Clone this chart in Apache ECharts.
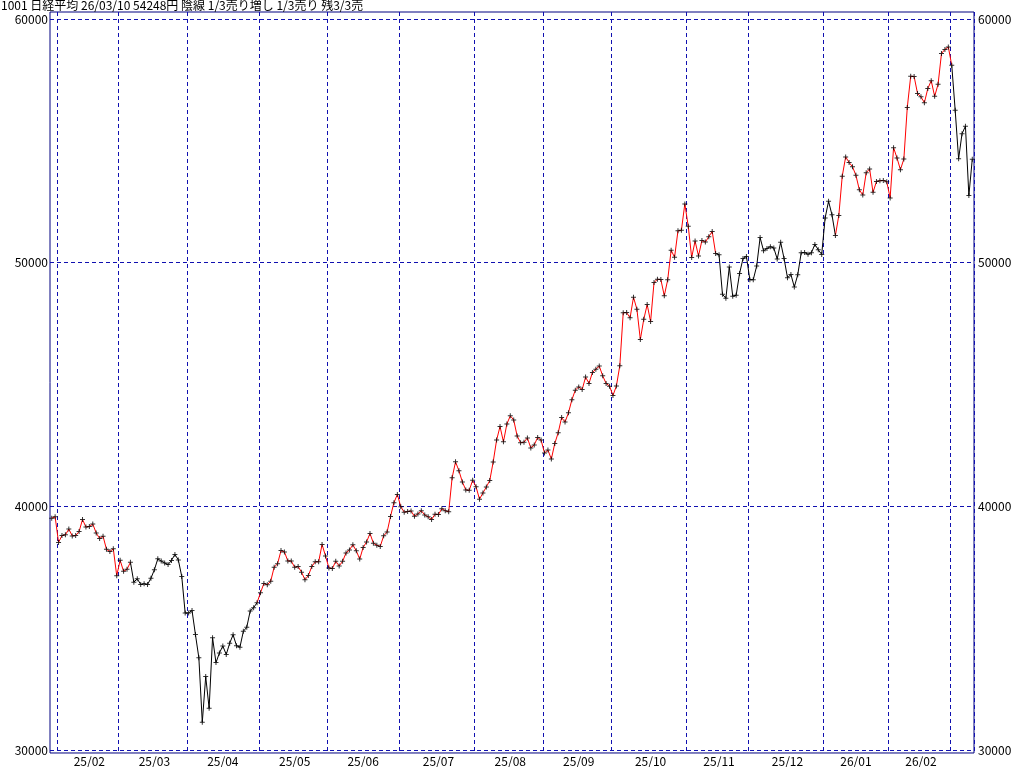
<!DOCTYPE html>
<html><head><meta charset="utf-8">
<script src="https://cdn.jsdelivr.net/npm/echarts@6/dist/echarts.min.js"></script>
<style>html,body{margin:0;padding:0;background:#fff}#c{width:1024px;height:767px}</style>
</head><body><div id="c"></div>
<script>
const titleText = '1001 日経平均 26/03/10 54248円 陰線 1/3売り増し 1/3売り 残3/3売';

const tradingDates = [
'25/01/30','25/01/31',
'25/02/03','25/02/04','25/02/05','25/02/06','25/02/07','25/02/10','25/02/12','25/02/13','25/02/14','25/02/17','25/02/18','25/02/19','25/02/20','25/02/21','25/02/25','25/02/26','25/02/27','25/02/28',
'25/03/03','25/03/04','25/03/05','25/03/06','25/03/07','25/03/10','25/03/11','25/03/12','25/03/13','25/03/14','25/03/17','25/03/18','25/03/19','25/03/21','25/03/24','25/03/25','25/03/26','25/03/27','25/03/28','25/03/31',
'25/04/01','25/04/02','25/04/03','25/04/04','25/04/07','25/04/08','25/04/09','25/04/10','25/04/11','25/04/14','25/04/15','25/04/16','25/04/17','25/04/18','25/04/21','25/04/22','25/04/23','25/04/24','25/04/25','25/04/28','25/04/30',
'25/05/01','25/05/02','25/05/07','25/05/08','25/05/09','25/05/12','25/05/13','25/05/14','25/05/15','25/05/16','25/05/19','25/05/20','25/05/21','25/05/22','25/05/23','25/05/26','25/05/27','25/05/28','25/05/29','25/05/30',
'25/06/02','25/06/03','25/06/04','25/06/05','25/06/06','25/06/09','25/06/10','25/06/11','25/06/12','25/06/13','25/06/16','25/06/17','25/06/18','25/06/19','25/06/20','25/06/23','25/06/24','25/06/25','25/06/26','25/06/27','25/06/30',
'25/07/01','25/07/02','25/07/03','25/07/04','25/07/07','25/07/08','25/07/09','25/07/10','25/07/11','25/07/14','25/07/15','25/07/16','25/07/17','25/07/18','25/07/22','25/07/23','25/07/24','25/07/25','25/07/28','25/07/29','25/07/30','25/07/31',
'25/08/01','25/08/04','25/08/05','25/08/06','25/08/07','25/08/08','25/08/12','25/08/13','25/08/14','25/08/15','25/08/18','25/08/19','25/08/20','25/08/21','25/08/22','25/08/25','25/08/26','25/08/27','25/08/28','25/08/29',
'25/09/01','25/09/02','25/09/03','25/09/04','25/09/05','25/09/08','25/09/09','25/09/10','25/09/11','25/09/12','25/09/16','25/09/17','25/09/18','25/09/19','25/09/22','25/09/24','25/09/25','25/09/26','25/09/29','25/09/30',
'25/10/01','25/10/02','25/10/03','25/10/06','25/10/07','25/10/08','25/10/09','25/10/10','25/10/14','25/10/15','25/10/16','25/10/17','25/10/20','25/10/21','25/10/22','25/10/23','25/10/24','25/10/27','25/10/28','25/10/29','25/10/30','25/10/31',
'25/11/04','25/11/05','25/11/06','25/11/07','25/11/10','25/11/11','25/11/12','25/11/13','25/11/14','25/11/17','25/11/18','25/11/19','25/11/20','25/11/21','25/11/25','25/11/26','25/11/27','25/11/28',
'25/12/01','25/12/02','25/12/03','25/12/04','25/12/05','25/12/08','25/12/09','25/12/10','25/12/11','25/12/12','25/12/15','25/12/16','25/12/17','25/12/18','25/12/19','25/12/22','25/12/23','25/12/24','25/12/25','25/12/26','25/12/29','25/12/30',
'26/01/05','26/01/06','26/01/07','26/01/08','26/01/09','26/01/13','26/01/14','26/01/15','26/01/16','26/01/19','26/01/20','26/01/21','26/01/22','26/01/23','26/01/26','26/01/27','26/01/28','26/01/29','26/01/30',
'26/02/02','26/02/03','26/02/04','26/02/05','26/02/06','26/02/09','26/02/10','26/02/12','26/02/13','26/02/16','26/02/17','26/02/18','26/02/19','26/02/20','26/02/24','26/02/25','26/02/26','26/02/27',
'26/03/02','26/03/03','26/03/04','26/03/05','26/03/06','26/03/09','26/03/10'
];

const closes = [
39514, 39572,
38520, 38798, 38831, 39067, 38787, 38801, 38964, 39461, 39149, 39174, 39270, 38909, 38678, 38777, 38238, 38142, 38256, 37156,
37785, 37331, 37418, 37705, 36887, 37028, 36793, 36819, 36790, 37053, 37397, 37845, 37752, 37677, 37608, 37781, 38027, 37800, 37120, 35618,
35624, 35726, 34736, 33781, 31137, 33013, 31714, 34609, 33586, 33982, 34268, 33920, 34378, 34730, 34280, 34221, 34869, 35039, 35706, 35840, 36045,
36452, 36831, 36780, 36929, 37503, 37644, 38183, 38128, 37756, 37754, 37499, 37529, 37299, 36986, 37160, 37532, 37724, 37722, 38433, 37965,
37471, 37447, 37747, 37554, 37742, 38089, 38212, 38421, 38173, 37834, 38311, 38537, 38885, 38488, 38403, 38354, 38791, 38942, 39585, 40151, 40487,
39986, 39762, 39786, 39811, 39588, 39689, 39821, 39646, 39570, 39460, 39678, 39663, 39901, 39819, 39775, 41171, 41826, 41456, 40998, 40675, 40655, 41070,
40800, 40291, 40550, 40795, 41059, 41820, 42718, 43275, 42649, 43378, 43714, 43546, 42889, 42610, 42633, 42808, 42394, 42520, 42829, 42718,
42189, 42310, 41939, 42580, 43019, 43644, 43459, 43838, 44373, 44768, 44902, 44790, 45303, 45046, 45494, 45630, 45755, 45355, 45044, 44933,
44551, 44937, 45770, 47945, 47951, 47735, 48580, 48089, 46847, 47673, 48278, 47582, 49186, 49316, 49308, 48642, 49300, 50512, 50219, 51308, 51326, 52411,
51497, 50212, 50884, 50276, 50912, 50843, 51063, 51282, 50377, 50324, 48703, 48538, 49824, 48626, 48660, 49559, 50167, 50254,
49303, 49303, 49865, 51028, 50492, 50582, 50655, 50603, 50149, 50837, 50168, 49383, 49512, 49002, 49507, 50402, 50413, 50344, 50408, 50750, 50527, 50339,
51833, 52518, 51962, 51117, 51940, 53549, 54341, 54111, 53936, 53584, 52991, 52775, 53689, 53847, 52885, 53334, 53359, 53376, 53323,
52655, 54720, 54293, 53818, 54253, 56364, 57650, 57640, 56942, 56806, 56566, 57144, 57468, 56826, 57321, 58583, 58753, 58850,
58097, 56260, 54262, 55290, 55602, 52754, 54248
];

// periods drawn in red (start and end dates inclusive)
const redPeriods = [['25/01/30','25/03/06'], ['25/04/30','25/11/14'], ['26/01/08','26/03/02']];
const yTicks = [30000, 40000, 50000, 60000];
const yRange = [29877, 60287];
const monthLabels = ['25/02','25/03','25/04','25/05','25/06','25/07','25/08','25/09','25/10','25/11','25/12','26/01','26/02'];

const n = tradingDates.length;
const inRed = new Array(n).fill(false);
redPeriods.forEach(([a, b]) => {
  const s = tradingDates.indexOf(a), e = tradingDates.indexOf(b);
  for (let i = s; i <= e; i++) inRed[i] = true;
});
const redSeg = i => inRed[i] && inRed[i + 1];
const redData = closes.map((v, i) => inRed[i] ? v : null);
const blackData = closes.map((v, i) => {
  const before = i > 0 && !redSeg(i - 1);
  const after = i < n - 1 && !redSeg(i);
  return (before || after) ? v : null;
});

const firstIdx = {}, lastIdx = {};
tradingDates.forEach((d, i) => {
  const k = d.slice(0, 5);
  if (!(k in firstIdx)) firstIdx[k] = i;
  lastIdx[k] = i;
});
const monthStarts = new Set(Object.values(firstIdx).filter(i => i > 0));
const labelIdx = new Set(monthLabels.map(k => Math.round((firstIdx[k] + lastIdx[k]) / 2)));

const FONT = '"Noto Sans CJK JP", "Noto Sans", sans-serif';
const dashColor = '#1010b0';
const frameColor = '#000080';

const chart = echarts.init(document.getElementById('c'), null, {renderer: 'canvas'});
chart.setOption({
  animation: false,
  backgroundColor: '#ffffff',
  title: {
    text: titleText, left: 1, top: -1, padding: 0,
    textStyle: {fontSize: 12, fontWeight: 'normal', color: '#000', fontFamily: FONT}
  },
  grid: {left: 50, right: 50, top: 12, bottom: 14, show: true, borderColor: frameColor, borderWidth: 1, backgroundColor: 'transparent'},
  xAxis: {
    type: 'category', data: tradingDates, boundaryGap: true,
    axisLine: {show: false}, axisTick: {show: false},
    axisLabel: {
      interval: (i) => labelIdx.has(i), formatter: v => v.slice(0, 5),
      margin: 2, fontSize: 12, color: '#000', fontFamily: FONT
    },
    splitLine: {show: true, interval: (i) => monthStarts.has(i), lineStyle: {color: dashColor, type: [4, 3], width: 1}}
  },
  yAxis: [{
    type: 'value', min: yRange[0], max: yRange[1], position: 'left',
    axisLine: {show: false},
    axisTick: {show: false, customValues: yTicks},
    axisLabel: {customValues: yTicks, formatter: v => String(v), margin: 2, fontSize: 12, color: '#000', fontFamily: FONT},
    splitLine: {show: true, lineStyle: {color: dashColor, type: [4, 3], width: 1}}
  }, {
    type: 'value', min: yRange[0], max: yRange[1], position: 'right',
    axisLine: {show: false},
    axisTick: {show: false, customValues: yTicks},
    axisLabel: {customValues: yTicks, formatter: v => String(v), margin: 4, fontSize: 12, color: '#000', fontFamily: FONT},
    splitLine: {show: false}
  }],
  series: [{
    type: 'line', data: blackData, yAxisIndex: 0, showSymbol: false, connectNulls: false,
    lineStyle: {color: '#000000', width: 1}, z: 2, silent: true
  }, {
    type: 'line', data: redData, yAxisIndex: 0, showSymbol: false, connectNulls: false,
    lineStyle: {color: '#ff0000', width: 1}, z: 2, silent: true
  }, {
    type: 'scatter', data: closes, yAxisIndex: 0,
    symbol: 'path://M2,0H3V2H5V3H3V5H2V3H0V2H2Z', symbolSize: 5,
    itemStyle: {color: '#000000'}, z: 3, silent: true
  }]
});
</script>
</body></html>
